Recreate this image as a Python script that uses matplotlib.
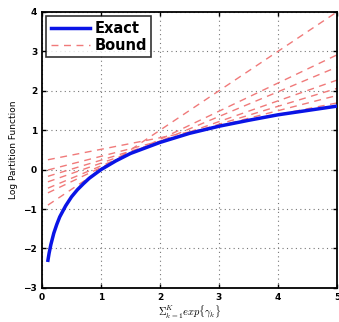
import matplotlib
matplotlib.use("Agg")
import matplotlib.pyplot as plt

# Exact curve points
exact_x = [0.1, 0.12, 0.15, 0.2, 0.25, 0.3, 0.4, 0.5, 0.6, 0.7, 0.8, 1.0, 1.25, 1.5,
           2.0, 2.5, 3.0, 3.5, 4.0, 4.5, 5.0]
exact_y = [-2.30, -2.12, -1.90, -1.61, -1.39, -1.20, -0.92, -0.69, -0.51, -0.36, -0.22,
           0.00, 0.22, 0.41, 0.69, 0.92, 1.10, 1.25, 1.39, 1.50, 1.61]

# Bound lines: start (x=0.1) and end (x=5) values
bound_x = [0.1, 5.0]
bound_start = [-0.90, -0.59, -0.47, -0.31, -0.17, -0.01, 0.25]
bound_end = [4.00, 2.91, 2.60, 2.27, 2.06, 1.88, 1.69]

xticks = [0, 1, 2, 3, 4, 5]
yticks = [-3, -2, -1, 0, 1, 2, 3, 4]

plt.rcParams["mathtext.fontset"] = "cm"

fig = plt.figure(figsize=(3.39, 3.22), dpi=100)
ax = fig.add_axes([0.124, 0.106, 0.870, 0.857])

bound_color = "#f07a7a"
for i, (s, e) in enumerate(zip(bound_start, bound_end)):
    ax.plot(bound_x, [s, e], linestyle=(0, (5, 4)), color=bound_color, lw=1.0,
            label="Bound" if i == 0 else None, zorder=2)
ax.plot(exact_x, exact_y, color="#0a14e6", lw=2.5, label="Exact", zorder=3)

ax.set_xlim(0, 5)
ax.set_ylim(-3, 4)
ax.set_xticks(xticks)
ax.set_yticks(yticks)
ax.tick_params(direction="in", top=True, right=True, labelsize=6.5, length=3, width=1)
for lab in ax.get_xticklabels() + ax.get_yticklabels():
    lab.set_fontweight("bold")
ax.grid(True, linestyle=(0, (1, 3)), color="#777777", lw=0.8)
for sp in ax.spines.values():
    sp.set_linewidth(1.3)

ax.set_xlabel(r"$\Sigma_{k=1}^{K} exp\{\gamma_k\}$", fontsize=7.5, labelpad=1)
ax.set_ylabel("Log Partition Function", fontsize=6.5, labelpad=4)

handles, labels = ax.get_legend_handles_labels()
order = [labels.index("Exact"), labels.index("Bound")]
leg = ax.legend([handles[i] for i in order], [labels[i] for i in order],
                loc="upper left", prop={"weight": "bold", "size": 10.5},
                frameon=True, fancybox=False, edgecolor="black",
                borderpad=0.3, handlelength=2.7, handletextpad=0.3,
                labelspacing=0.15, borderaxespad=0.3)
leg.get_frame().set_linewidth(1.2)

fig.savefig("out.png", dpi=100)
